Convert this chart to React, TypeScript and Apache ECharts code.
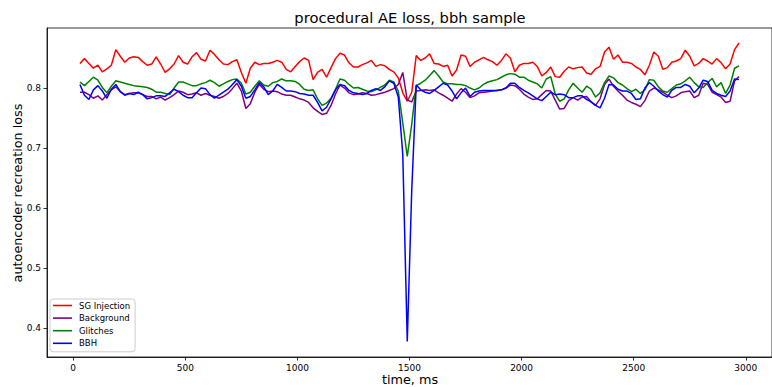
import React, { useEffect, useRef } from "react";
import * as echarts from "echarts";

// sample grid: first sample time and spacing (ms)
const T0 = 30;
const DT = 20;

const sgInjection = [
  0.841,0.849,0.841,0.833,0.838,0.827,0.832,0.838,0.864,0.853,
  0.843,0.850,0.852,0.851,0.844,0.838,0.840,0.852,0.840,0.826,
  0.832,0.840,0.854,0.843,0.840,0.852,0.859,0.848,0.845,0.863,
  0.856,0.847,0.840,0.839,0.844,0.847,0.826,0.808,0.833,0.843,
  0.839,0.841,0.841,0.843,0.846,0.843,0.831,0.827,0.836,0.844,
  0.850,0.846,0.814,0.826,0.831,0.818,0.834,0.849,0.858,0.855,
  0.842,0.835,0.835,0.839,0.842,0.846,0.836,0.839,0.837,0.831,
  0.827,0.817,0.792,0.778,0.793,0.854,0.846,0.850,0.857,0.841,
  0.840,0.836,0.838,0.820,0.830,0.855,0.853,0.836,0.843,0.847,
  0.851,0.847,0.844,0.838,0.846,0.857,0.850,0.827,0.838,0.841,
  0.841,0.843,0.836,0.820,0.826,0.835,0.819,0.818,0.828,0.835,
  0.832,0.834,0.835,0.825,0.823,0.832,0.836,0.860,0.868,0.848,
  0.855,0.843,0.843,0.841,0.835,0.831,0.822,0.838,0.860,0.853,
  0.831,0.834,0.843,0.845,0.849,0.863,0.853,0.837,0.841,0.849,
  0.845,0.840,0.849,0.842,0.832,0.840,0.864,0.875,
];

const background = [
  0.793,0.793,0.789,0.783,0.787,0.780,0.789,0.797,0.802,0.794,
  0.789,0.791,0.792,0.792,0.789,0.786,0.786,0.782,0.785,0.780,
  0.784,0.789,0.795,0.793,0.789,0.790,0.792,0.788,0.791,0.788,
  0.786,0.783,0.786,0.791,0.799,0.808,0.795,0.766,0.774,0.793,
  0.806,0.798,0.794,0.795,0.794,0.790,0.788,0.788,0.785,0.782,
  0.780,0.776,0.767,0.761,0.756,0.758,0.771,0.790,0.805,0.800,
  0.792,0.789,0.790,0.792,0.791,0.788,0.789,0.791,0.793,0.796,
  0.799,0.806,0.826,0.780,0.777,0.795,0.796,0.797,0.796,0.797,
  0.792,0.788,0.783,0.778,0.790,0.799,0.793,0.784,0.787,0.792,
  0.793,0.794,0.795,0.796,0.797,0.800,0.805,0.804,0.798,0.790,
  0.785,0.781,0.782,0.789,0.796,0.795,0.780,0.765,0.766,0.779,
  0.784,0.780,0.785,0.786,0.777,0.771,0.782,0.806,0.815,0.803,
  0.795,0.788,0.780,0.776,0.773,0.769,0.779,0.795,0.800,0.797,
  0.793,0.788,0.784,0.787,0.792,0.794,0.795,0.784,0.788,0.808,
  0.806,0.793,0.789,0.785,0.776,0.778,0.812,0.819,
];

const glitches = [
  0.810,0.804,0.811,0.818,0.813,0.801,0.792,0.803,0.812,0.810,
  0.808,0.806,0.804,0.803,0.802,0.801,0.798,0.793,0.793,0.791,
  0.789,0.800,0.810,0.810,0.807,0.804,0.804,0.807,0.809,0.813,
  0.809,0.803,0.807,0.811,0.814,0.815,0.808,0.790,0.793,0.803,
  0.812,0.805,0.803,0.809,0.811,0.815,0.812,0.812,0.811,0.806,
  0.798,0.796,0.797,0.782,0.771,0.775,0.783,0.798,0.815,0.813,
  0.806,0.800,0.801,0.798,0.795,0.794,0.797,0.801,0.805,0.813,
  0.810,0.795,0.742,0.686,0.740,0.804,0.808,0.813,0.821,0.829,
  0.820,0.810,0.807,0.807,0.806,0.806,0.804,0.800,0.797,0.800,
  0.806,0.810,0.812,0.814,0.818,0.822,0.824,0.823,0.818,0.818,
  0.813,0.810,0.807,0.800,0.815,0.819,0.790,0.778,0.782,0.797,
  0.808,0.800,0.793,0.803,0.798,0.785,0.792,0.809,0.820,0.817,
  0.809,0.805,0.799,0.794,0.798,0.791,0.797,0.814,0.813,0.802,
  0.795,0.793,0.799,0.805,0.807,0.812,0.818,0.809,0.802,0.801,
  0.809,0.816,0.802,0.809,0.791,0.805,0.833,0.837,
];

const bbh = [
  0.806,0.788,0.781,0.797,0.804,0.795,0.783,0.798,0.806,0.794,
  0.788,0.791,0.789,0.793,0.789,0.782,0.784,0.787,0.787,0.786,
  0.792,0.798,0.794,0.788,0.784,0.784,0.792,0.800,0.799,0.789,
  0.783,0.788,0.793,0.798,0.806,0.814,0.803,0.783,0.786,0.797,
  0.809,0.802,0.789,0.795,0.806,0.801,0.795,0.795,0.794,0.791,
  0.790,0.788,0.788,0.776,0.762,0.768,0.782,0.797,0.806,0.804,
  0.796,0.792,0.791,0.789,0.791,0.796,0.799,0.796,0.802,0.812,
  0.808,0.785,0.690,0.378,0.630,0.805,0.797,0.793,0.791,0.796,
  0.802,0.808,0.805,0.795,0.782,0.792,0.800,0.786,0.793,0.795,
  0.796,0.796,0.796,0.796,0.797,0.800,0.808,0.808,0.801,0.796,
  0.792,0.787,0.782,0.779,0.786,0.793,0.789,0.790,0.789,0.784,
  0.784,0.787,0.787,0.781,0.777,0.771,0.767,0.783,0.806,0.805,
  0.798,0.795,0.795,0.791,0.781,0.782,0.800,0.809,0.803,0.795,
  0.789,0.785,0.796,0.801,0.801,0.806,0.803,0.792,0.800,0.813,
  0.811,0.796,0.791,0.788,0.786,0.795,0.815,0.814,
];

const seriesNames = ["SG Injection", "Background", "Glitches", "BBH"];
const seriesColors = ["#ff0000", "#800080", "#008000", "#0000ff"];
const xTicks = [0, 500, 1000, 1500, 2000, 2500, 3000];
const yTicks = [0.4, 0.5, 0.6, 0.7, 0.8];

const FONT = "DejaVu Sans";

function toPairs(vals: number[]) {
  return vals.map((v, i) => [T0 + DT * i, v]);
}

export default function App() {
  const ref = useRef<HTMLDivElement>(null);
  useEffect(() => {
    if (!ref.current) return;
    const chart = echarts.init(ref.current, null, { renderer: "svg" });
    const allValues = [sgInjection, background, glitches, bbh];
    chart.setOption({
      animation: false,
      backgroundColor: "#ffffff",
      grid: {
        left: 47,
        top: 28,
        width: 727,
        height: 329,
        show: true,
        borderColor: "#000",
        borderWidth: 0.8,
        backgroundColor: "transparent",
      },
      legend: {
        orient: "vertical",
        left: 50,
        top: 299,
        data: seriesNames,
        icon: "rect",
        itemWidth: 19,
        itemHeight: 1.6,
        itemGap: 1.6,
        padding: [1, 5, 3, 3],
        backgroundColor: "rgba(255,255,255,0.8)",
        borderColor: "#cccccc",
        borderWidth: 1,
        borderRadius: 3,
        textStyle: {
          fontFamily: FONT,
          fontSize: 8.5,
          lineHeight: 11,
          color: "#000",
          padding: [0, 0, 0, 2],
        },
      },
      xAxis: {
        type: "value",
        min: -117,
        max: 3117,
        axisLine: { show: true, onZero: false, lineStyle: { color: "#000", width: 0.8 } },
        axisTick: {
          show: true,
          length: 3.5,
          lineStyle: { color: "#000", width: 0.8 },
          customValues: xTicks,
        },
        axisLabel: {
          customValues: xTicks,
          fontFamily: FONT,
          fontSize: 9,
          color: "#000",
          margin: 6,
          formatter: (v: number) => String(Math.round(v)),
        },
        splitLine: { show: false },
      },
      yAxis: {
        type: "value",
        min: 0.352,
        max: 0.9,
        axisLine: { show: true, onZero: false, lineStyle: { color: "#000", width: 0.8 } },
        axisTick: {
          show: true,
          length: 3.5,
          lineStyle: { color: "#000", width: 0.8 },
          customValues: yTicks,
        },
        axisLabel: {
          customValues: yTicks,
          fontFamily: FONT,
          fontSize: 9,
          color: "#000",
          margin: 6,
          formatter: (v: number) => v.toFixed(1),
        },
        splitLine: { show: false },
      },
      graphic: [
        {
          type: "text",
          x: 410,
          y: 17,
          style: {
            text: "procedural AE loss, bbh sample",
            fontFamily: FONT,
            fontSize: 14.7,
            fill: "#000",
            textAlign: "center",
            textVerticalAlign: "middle",
          },
        },
        {
          type: "text",
          x: 410,
          y: 379,
          style: {
            text: "time, ms",
            fontFamily: FONT,
            fontSize: 12.8,
            fill: "#000",
            textAlign: "center",
            textVerticalAlign: "middle",
          },
        },
        {
          type: "text",
          x: 17,
          y: 193,
          rotation: Math.PI / 2,
          style: {
            text: "autoencoder recreation loss",
            fontFamily: FONT,
            fontSize: 12.8,
            fill: "#000",
            textAlign: "center",
            textVerticalAlign: "middle",
          },
        },
      ],
      series: seriesNames.map((name, k) => ({
        name,
        type: "line",
        data: toPairs(allValues[k]),
        showSymbol: false,
        symbol: "none",
        color: seriesColors[k],
        lineStyle: { color: seriesColors[k], width: 1.5 },
        z: 2 + k,
      })),
    });
    return () => chart.dispose();
  }, []);
  return (
    <div
      ref={ref}
      style={{ position: "absolute", left: 0, top: 0, width: 772, height: 387 }}
    />
  );
}
